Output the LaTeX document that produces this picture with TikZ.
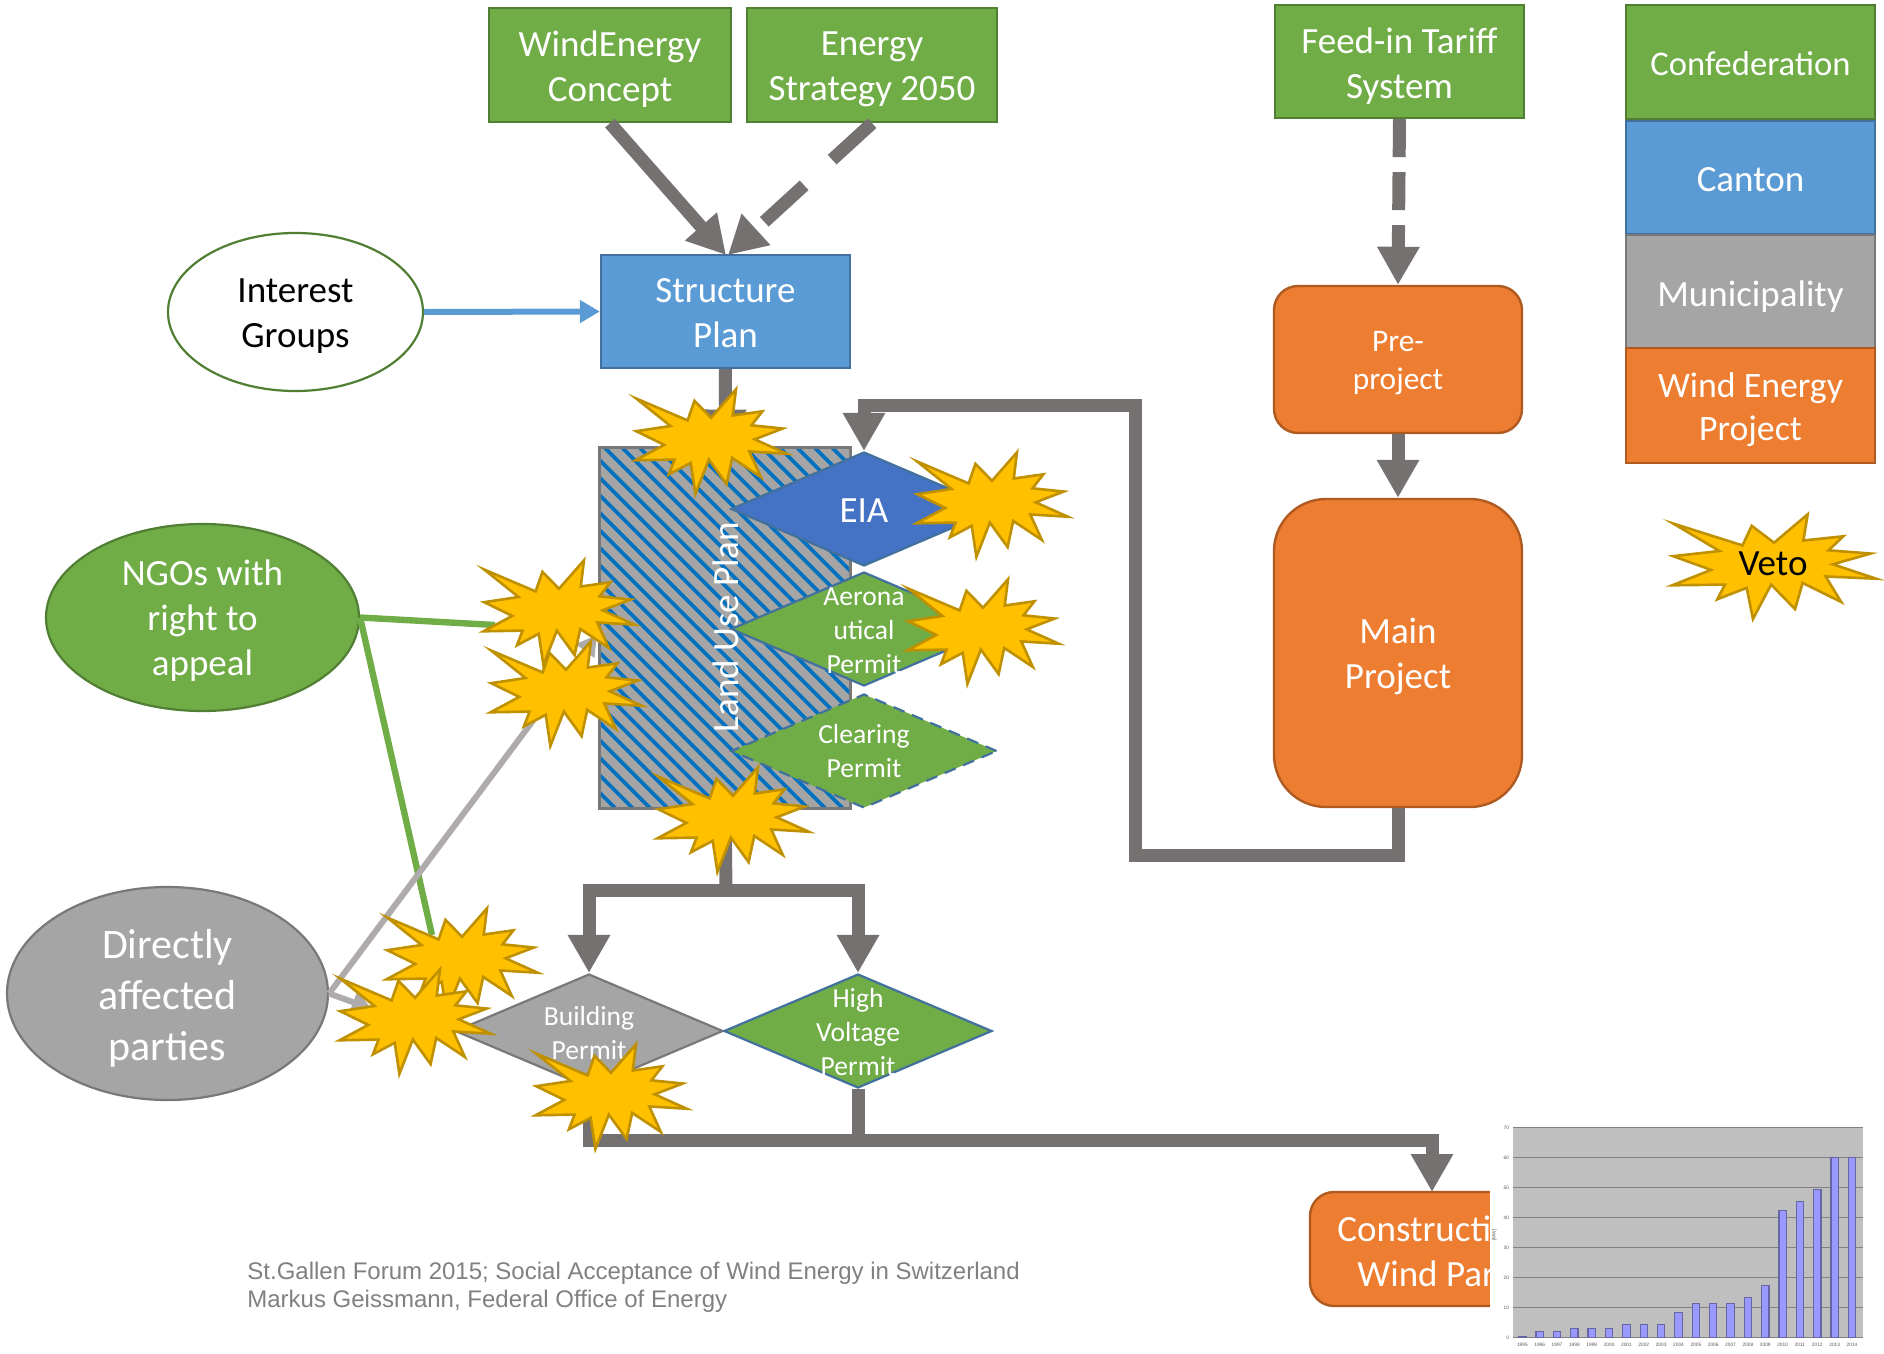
\documentclass[tikz,border=0pt]{standalone}
\usepackage{fontspec}
\setmainfont{Carlito}
\newfontfamily\footfont{Liberation Sans}
\usetikzlibrary{arrows.meta,shapes.geometric}
\definecolor{cGreen}{HTML}{70AD47}\definecolor{cGreenL}{HTML}{507E32}
\definecolor{cBlue}{HTML}{5B9BD5}\definecolor{cBlueL}{HTML}{41719C}
\definecolor{cOrange}{HTML}{ED7D31}\definecolor{cOrangeL}{HTML}{AE5A21}
\definecolor{cGray}{HTML}{A5A5A5}\definecolor{cGrayL}{HTML}{787878}
\definecolor{cEia}{HTML}{4472C4}\definecolor{cStar}{HTML}{FFC000}\definecolor{cStarL}{HTML}{BF9000}
\definecolor{cFlow}{HTML}{767171}\definecolor{cLight}{HTML}{AFABAB}\definecolor{cHatch}{HTML}{0070C0}
\newcommand\fsL{\fontsize{18.5}{22.5}\selectfont}
\newcommand\fsK{\fontsize{17.3}{21}\selectfont}
\newcommand\fsJ{\fontsize{17.9}{21.6}\selectfont}
\newcommand\fsM{\fontsize{15.7}{19.2}\selectfont}
\newcommand\fsS{\fontsize{13.8}{17}\selectfont}
\newcommand\fsX{\fontsize{21}{25.5}\selectfont}
\newcommand\burst[3][0.935]{\draw[burstline,shift={(#2,#3)},xscale=#1,yscale=0.98]
 (-80,-42.3)--(-25,-20)--(-17.7,-40)--(0,-22.7)--(26.7,-51.7)--(23.3,-25)--(55,-29.3)--(43.3,-15)--(76.7,-11.7)--(46.7,-0.7)--(81,14)--(41,11.7)--(53.3,37.7)--(22.7,18.3)--(16.7,45)--(-2.3,20)--(-16.7,55)--(-21.7,23.3)--(-45,35)--(-39,20)--(-80.7,20.7)--(-50,5)--(-80,-9)--(-43.3,-14.3)--cycle;}
% words of a shape, set as a node of their own: name, font, colour, downward shift, text
\newcommand\words[5]{\node[wordstyle,font=#2,text=#3] (#1T) at ([yshift=-#4pt]#1.center) {#5};}
\tikzset{
 x=0.5pt,y=-0.5pt,
 box/.style={draw,line width=1.2pt,inner sep=0pt,minimum height=57pt,minimum width=124.5pt},
 greenbox/.style={box,fill=cGreen,draw=cGreenL},
 bluebox/.style={box,fill=cBlue,draw=cBlueL},
 graybox/.style={box,fill=cGray,draw=cGrayL},
 orangebox/.style={box,fill=cOrange,draw=cOrangeL},
 roundbox/.style={orangebox,rounded corners=12pt},
 oval/.style={ellipse,draw,line width=1.1pt,inner sep=0pt},
 dia/.style={diamond,draw,line width=1.1pt,inner sep=0pt,minimum width=133pt,minimum height=57pt},
 wordstyle/.style={align=center,inner sep=0pt},
 flow/.style={draw=cFlow,line width=6.5pt,-{Triangle[length=19pt,width=20pt]}},
 flowplain/.style={draw=cFlow,line width=6.5pt},
 burstline/.style={draw=cStarL,fill=cStar,line width=1.3pt,line join=miter},
 ticklab/.style={font=\footfont\fontsize{2.4}{3}\selectfont,text=black!65,inner sep=0pt},
 foot/.style={font=\footfont\fontsize{12}{14}\selectfont,text=black!50,anchor=west,inner sep=0pt}
}
\begin{document}
\begin{tikzpicture}
\useasboundingbox (0,0) rectangle (1884,1354);
% land use plan
\node[fill=cGray,minimum width=125pt,minimum height=180pt,inner sep=0pt] (land) at (725,628) {};
\begin{scope}
\clip (land.south west) rectangle (land.north east);
\foreach \s in {220,237.5,...,860}{\draw[cHatch,line width=1.9pt] ({\s},448) -- ({\s+360},808);}
\end{scope}
\draw[cGrayL,line width=1.3pt] (land.south west) rectangle (land.north east);
% boxes
\node[greenbox,minimum width=121pt] (wind) at (610,65) {};
\words{wind}{\fsL}{white}{2.2}{WindEnergy\\Concept}
\node[greenbox,minimum width=125pt] (energy) at (872,65) {};
\words{energy}{\fsL}{white}{2.4}{Energy\\Strategy 2050}
\node[greenbox,minimum height=56.5pt] (feed) at (1399.5,61.5) {};
\words{feed}{\fsL}{white}{2.4}{Feed-in Tariff\\System}
\node[greenbox] (conf) at (1750.5,62) {};
\words{conf}{\fsK}{white}{0.6}{Confederation}
\node[bluebox,minimum height=56.5pt] (canton) at (1750.5,177.5) {};
\words{canton}{\fsL}{white}{1.2}{Canton}
\node[graybox,minimum height=56.5pt] (muni) at (1750.5,291.5) {};
\words{muni}{\fsL}{white}{2.4}{Municipality}
\node[orangebox,minimum height=57.5pt] (wep) at (1750.5,405.5) {};
\words{wep}{\fsJ}{white}{2.2}{Wind Energy\\Project}
\node[bluebox,minimum height=56.5pt] (struct) at (725.5,311.5) {};
\words{struct}{\fsL}{white}{1}{Structure\\Plan}
\node[oval,draw=cGreenL,fill=white,minimum width=127.5pt,minimum height=79pt] (interest) at (295.5,312) {};
\words{interest}{\fsL}{black}{2.2}{Interest\\Groups}
\node[roundbox,minimum width=124pt,minimum height=73.5pt] (pre) at (1398,359.5) {};
\words{pre}{\fsM}{white}{1.8}{Pre-\\project}
\node[roundbox,rounded corners=26pt,minimum width=124pt,minimum height=154pt] (main) at (1398,653) {};
\words{main}{\fsL}{white}{1.8}{Main\\Project}
\node[roundbox] (constr) at (1434.5,1249) {};
\node[font=\fsL,text=white,inner sep=0pt,anchor=base west] (constrA) at (1337,1241) {Constructi};
\node[font=\fsL,text=white,inner sep=0pt,anchor=base west] (constrB) at (1357,1286) {Wind Par};
\node[oval,draw=cGreenL,fill=cGreen,minimum width=156.5pt,minimum height=93.5pt] (ngo) at (202.5,617.5) {};
\words{ngo}{\fsL}{white}{1.8}{NGOs with\\right to\\appeal}
\node[oval,draw=cGrayL,fill=cGray,minimum width=160.5pt,minimum height=106.5pt] (dir) at (167.5,993.5) {};
\words{dir}{\fsX}{white}{2.2}{Directly\\affected\\parties}
% diamonds
\node[dia,fill=cEia,draw=cBlueL] (eia) at (864,509) {};
\words{eia}{\fsL}{white}{1}{EIA}
\node[dia,fill=cGreen,draw=cBlueL] (aero) at (864,629) {};
\words{aero}{\fsS}{white}{1}{Aerona\\utical\\Permit}
\node[dia,fill=cGreen,draw=cBlueL,dashed,dash pattern=on 6pt off 4pt] (clear) at (864,751) {};
\words{clear}{\fsS}{white}{0}{Clearing\\Permit}
\node[dia,minimum width=134pt,fill=cGray,draw=cGrayL] (build) at (589,1031) {};
\words{build}{\fsS}{white}{1}{Building\\Permit}
\node[dia,minimum width=134pt,fill=cGreen,draw=cBlueL] (high) at (858,1031) {};
\words{high}{\fsS}{white}{0.3}{High\\Voltage\\Permit}
\node[wordstyle,font=\fsL,text=white,rotate=90] (landT) at (726,627) {Land Use Plan};
% connector joints
\coordinate (mainA) at (1398,855);
\coordinate (mainB) at (1135,855);
\coordinate (mainC) at (1135,405);
\coordinate (mainD) at (864,405);
\coordinate (splitA) at (726,890);
\coordinate (splitL) at (589,890);
\coordinate (splitR) at (858,890);
\coordinate (joinL) at (589,1140);
\coordinate (joinR) at (858,1140);
\coordinate (joinE) at (1432,1140);
\coordinate (constrN) at (1432,1192);
\coordinate (ngoA) at (495,625);
\coordinate (ngoB) at (432,935);
\coordinate (dirA) at (597,635);
\coordinate (dirB) at (372,1009);
\coordinate (structIn) at (726,255);
\coordinate (structInR) at (728,255);
% connectors
\draw[flow] (wind.south) -- (structIn);
\draw[flow,dash pattern=on 27pt off 19pt] (energy.south) -- (structInR);
\draw[flow,dash pattern=on 19pt off 7.5pt] (feed.south) -- (pre.north);
\draw[flow] (pre.south) -- (main.north);
\draw[flow] (main.south) -- (mainA) -- (mainB) -- (mainC) -- (mainD) -- (eia.north);
\draw[flow] (struct.south) -- (land.north);
\draw[flowplain] (land.south) -- (splitA);
\draw[flow] (splitA) -- (splitL) -- (build.north);
\draw[flow] (splitA) -- (splitR) -- (high.north);
\draw[flowplain] (high.south) -- (joinR);
\draw[flow] (build.south) -- (joinL) -- (joinE) -- (constrN);
\draw[cBlue,line width=3pt,-{Triangle[length=10pt,width=11pt]}] (interest.east) -- (struct.west);
\draw[cGreen,line width=3.2pt] (ngo.east) -- (ngoA);
\draw[cGreen,line width=3.2pt] (ngo.east) -- (ngoB);
\draw[cLight,line width=3pt,-{Triangle[length=10pt,width=11pt]}] (dir.east) -- (dirA);
\draw[cLight,line width=3pt,-{Triangle[length=10pt,width=11pt]}] (dir.east) -- (dirB);
% bursts
\burst{711}{440}
\burst{992}{503}
\burst{983}{630}
\burst{559}{611}
\burst{566}{692}
\burst{733}{818}
\burst{462}{959}
\burst{415}{1020}
\burst{611}{1095}
\burst[1.26]{1774}{565}
\node[font=\fsL,inner sep=0pt,text=black] (veto) at (1773,564) {Veto};
% chart
\fill[white] (1490,1117) rectangle (1884,1354);
\begin{scope}[shift={(1450,1100)},x=0.16667pt,y=-0.16667pt]
\fill[black!25] (190,83) rectangle (1238,715);
\foreach \v in {0,10,...,70}{
 \draw[black!50,line width=0.8pt] (190,{713-9*\v}) -- (1238,{713-9*\v});
 \node[ticklab,anchor=east] (ylab\v) at (178,{713-9*\v}) {\v};
}
\node[ticklab,rotate=90] (yunit) at (133,405) {[MW]};
\foreach \i/\y/\v in {0/1995/0.5,1/1996/2,2/1997/2,3/1998/3,4/1999/3,5/2000/3,6/2001/4.5,7/2002/4.5,8/2003/4.5,9/2004/8.5,10/2005/11.5,11/2006/11.5,12/2007/11.5,13/2008/13.5,14/2009/17.5,15/2010/42.5,16/2011/45.5,17/2012/49.5,18/2013/60,19/2014/60}{
 \pgfmathsetmacro\cx{217+52.05*\i}
 \draw[fill=blue!40,draw=black!60!blue!60,line width=0.6pt] ({\cx-11},713) rectangle ({\cx+11},{713-9*\v});
 \node[ticklab] (xlab\y) at (\cx,733) {\y};
}
\end{scope}
% footer
\node[foot] (footA) at (247,1273.5) {St.Gallen Forum 2015; Social Acceptance of Wind Energy in Switzerland};
\node[foot] (footB) at (247,1301.5) {Markus Geissmann, Federal Office of Energy};
\end{tikzpicture}
\end{document}
